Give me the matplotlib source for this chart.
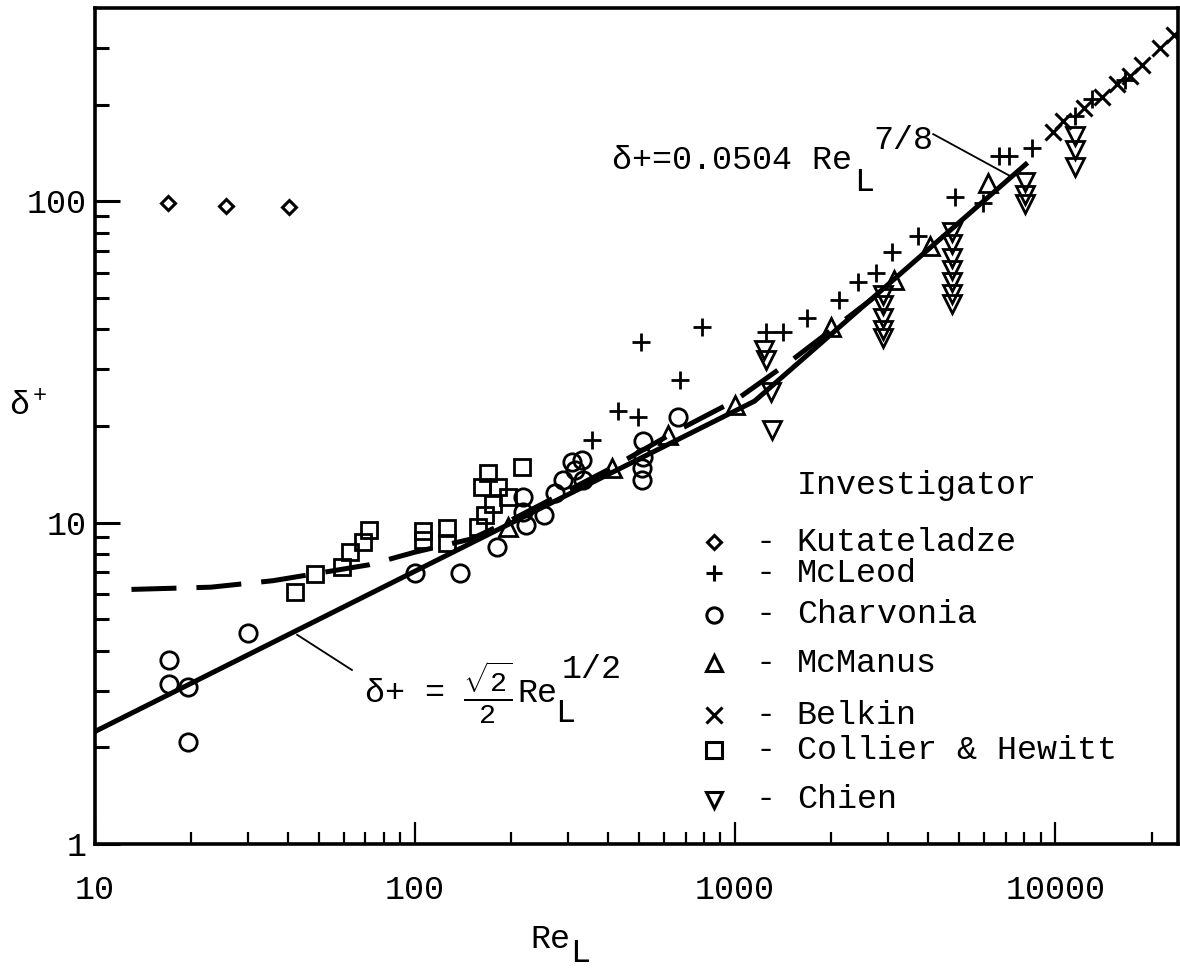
import numpy as np
import matplotlib.pyplot as plt
from matplotlib.ticker import FixedLocator, NullFormatter

plt.rcParams['font.family'] = ['Liberation Mono', 'DejaVu Sans']
plt.rcParams['mathtext.fontset'] = 'custom'
plt.rcParams['mathtext.rm'] = 'Liberation Mono'
plt.rcParams['mathtext.it'] = 'Liberation Mono'

# data (Re_L, delta+)
kut_re = [16.9, 25.6, 40.4]
kut_d = [99, 97, 96]

mcleod_re = [357, 430, 498, 509, 673, 788, 1250, 1413, 1679, 2113, 2423, 2757,
             3090, 3730, 4870, 5960, 6700, 7200, 8470, 11500, 13000, 16500]
mcleod_d = [18.1, 22.2, 21.3, 36.4, 27.9, 40.8, 39.1, 39.1, 43.5, 49.5, 56.3, 60,
            69.8, 77.8, 103, 99, 138, 138, 147, 185, 208, 238]

charv_re = [17.0, 17.0, 19.5, 19.5, 30.1, 100, 138, 180, 218, 218, 222, 253, 274,
            290, 309, 316, 332, 335, 516, 516, 510, 510, 663]
charv_d = [3.74, 3.15, 3.08, 2.08, 4.54, 6.98, 6.98, 8.42, 12.0, 10.8, 9.85, 10.6,
           12.4, 13.6, 15.5, 14.6, 15.7, 13.6, 17.9, 16.0, 14.8, 13.6, 21.4]

mcmanus_re = [195, 413, 617, 1000, 1995, 3140, 4070, 6170]
mcmanus_d = [9.7, 14.8, 18.8, 23.3, 40.8, 57, 72.4, 114]

belkin_re = [9860, 10600, 12300, 14000, 15600, 17100, 18700, 21300, 23500]
belkin_d = [164, 178, 195, 211, 232, 245, 265, 300, 330]

collier_re = [42.2, 48.7, 59.1, 62.7, 68.8, 71.8, 106, 106, 126, 126, 157, 166,
              175, 162, 182, 169, 195, 216]
collier_d = [6.1, 6.93, 7.29, 8.1, 8.73, 9.5, 8.86, 9.4, 8.66, 9.65, 9.7, 10.6,
             11.4, 12.9, 12.9, 14.3, 12.0, 14.9]

chien_re = [1230, 1250, 1290, 1300,
            2900, 2900, 2900, 2900, 2900,
            4770, 4770, 4770, 4770, 4770, 4770, 4770,
            8050, 8050, 8050, 11550, 11550, 11550]
chien_d = [34.6, 32, 25.6, 19.5,
           51, 47.7, 43.5, 39.9, 37.7,
           80.6, 73.6, 66.9, 61.3, 56.2, 51.4, 47.9,
           115, 105, 98, 160, 145, 128]

# correlation lines
solid_re = [10, 1150, 8200]
solid_d = [2.24, 23.9, 132]
dash_re = [13, 23, 36, 72, 100, 150, 200, 400, 650, 1000, 1500, 2700]
dash_d = [6.2, 6.3, 6.6, 7.4, 8.1, 8.9, 10.2, 14.6, 19.2, 24, 32, 50]

fig = plt.figure(figsize=(11.8, 9.73), dpi=100)
ax = fig.add_axes([95 / 1180, 129 / 973, 1083 / 1180, 836 / 973])
ax.set_xscale('log')
ax.set_yscale('log')
ax.set_xlim(10, 24200)
ax.set_ylim(1, 400)

ax.plot(solid_re, solid_d, color='black', lw=3.6, solid_capstyle='butt')
ax.plot(dash_re, dash_d, color='black', lw=3.6, dashes=(9, 4))

mk = dict(linestyle='none', color='black', mfc='none', mec='black')
ax.plot(kut_re, kut_d, marker='D', ms=7, mew=2.2, **mk)
ax.plot(mcleod_re, mcleod_d, marker='+', ms=13, mew=2, **mk)
ax.plot(charv_re, charv_d, marker='o', ms=12.5, mew=2, **mk)
ax.plot(mcmanus_re, mcmanus_d, marker='^', ms=12.5, mew=2, **mk)
ax.plot(belkin_re, belkin_d, marker='x', ms=11, mew=2.2, **mk)
ax.plot(collier_re, collier_d, marker='s', ms=12, mew=2, **mk)
ax.plot(chien_re, chien_d, marker='v', ms=12.5, mew=2, **mk)


def piece(txt, anchor, dx, dy, size=24):
    # dx, dy in pixels from the anchor point
    ax.annotate(txt, xy=anchor, xytext=(dx * 0.72, dy * 0.72),
                textcoords='offset points', fontsize=size, ha='left', va='center')


# lower correlation label
ax.plot([42.8, 63.5], [4.48, 3.48], color='black', lw=1.3)
low = (70, 2.95)
piece('δ+ =', low, 0, 0)
piece(r'$\frac{\sqrt{2}}{2}$', low, 98, 0, size=29)
piece('Re', low, 152, 0)
piece('L', low, 190, -20)
piece('1/2', low, 196, 24)

# upper correlation label
ax.plot([4160, 7230], [162, 120], color='black', lw=1.3)
up = (412, 134)
piece('δ+=0.0504 Re', up, 0, 0)
piece('L', up, 242, -22)
piece('7/8', up, 262, 20)

# legend drawn by hand
legend_names = ['Kutateladze', 'McLeod', 'Charvonia', 'McManus', 'Belkin',
                'Collier & Hewitt', 'Chien']
legend_marks = ['D', '+', 'o', '^', 'x', 's', 'v']
legend_y = [0.361, 0.324, 0.274, 0.2165, 0.154, 0.112, 0.053]
ax.text(0.648, 0.429, 'Investigator', transform=ax.transAxes, fontsize=24,
        ha='left', va='center')
for name, m, yy in zip(legend_names, legend_marks, legend_y):
    ms = 7 if m == 'D' else 11
    ax.plot([0.572], [yy], marker=m, ms=ms, mew=2.2, transform=ax.transAxes,
            clip_on=False, **mk)
    ax.text(0.619, yy, '-', transform=ax.transAxes, fontsize=24,
            ha='center', va='center')
    ax.text(0.648, yy, name, transform=ax.transAxes, fontsize=24,
            ha='left', va='center')

# axes styling
for s in ax.spines.values():
    s.set_linewidth(2.6)
ax.xaxis.set_major_locator(FixedLocator([10, 100, 1000, 10000]))
ax.xaxis.set_minor_locator(FixedLocator(
    [k * 10 ** e for e in range(1, 5) for k in range(2, 10) if k * 10 ** e < 24200]))
ax.yaxis.set_major_locator(FixedLocator([1, 10, 100]))
ax.yaxis.set_minor_locator(FixedLocator(
    [k * 10 ** e for e in range(0, 3) for k in range(2, 10) if k * 10 ** e < 400]))
ax.xaxis.set_minor_formatter(NullFormatter())
ax.yaxis.set_minor_formatter(NullFormatter())
ax.set_xticklabels(['10', '100', '1000', '10000'])
ax.set_yticklabels(['1', '10', '100'])
ax.tick_params(axis='x', which='major', direction='in', length=16, width=1.6,
               labelsize=24, pad=22)
ax.tick_params(axis='x', which='minor', direction='in', length=9, width=1.6)
ax.tick_params(axis='y', which='major', direction='in', length=18, width=2.2,
               labelsize=24, pad=6)
ax.tick_params(axis='y', which='minor', direction='in', length=10, width=2.2)

fig.text(28 / 1180, 1 - 407 / 973, 'δ$^+$', fontsize=24, ha='center', va='center')
fig.text(530 / 1180, 1 - 940 / 973, 'Re', fontsize=24, ha='left', va='center')
fig.text(570 / 1180, 1 - 954 / 973, 'L', fontsize=24, ha='left', va='center')

fig.savefig('out.png', dpi=100)
